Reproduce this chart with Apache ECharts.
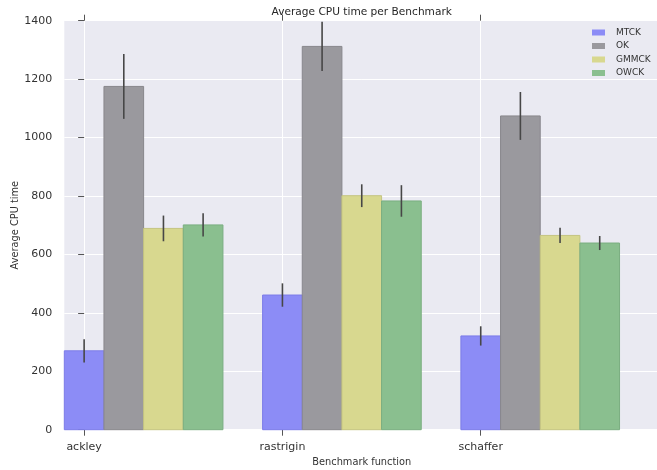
<!DOCTYPE html>
<html>
<head>
<meta charset="utf-8">
<script src="https://cdn.jsdelivr.net/npm/echarts@6/dist/echarts.min.js"></script>
<style>
  html, body { margin: 0; padding: 0; background: #ffffff; }
  #chart { width: 657px; height: 470px; }
</style>
</head>
<body>
<div id="chart"></div>
<script>
// Benchmark functions (one group of bars each)
const categories = ['ackley', 'rastrigin', 'schaffer'];
const methods = ['MTCK', 'OK', 'GMMCK', 'OWCK'];

// Average CPU time per method, one value per benchmark
const mtck  = [270, 461, 321];
const ok    = [1175, 1312, 1074];
const gmmck = [689, 801, 665];
const owck  = [701, 783, 639];

// Error bar half-lengths
const mtckErr  = [40, 40, 33];
const okErr    = [111, 84, 82];
const gmmckErr = [44, 39, 26];
const owckErr  = [40, 54, 24];

// Y axis ticks
const yTicks = [0, 200, 400, 600, 800, 1000, 1200, 1400];

const values = [mtck, ok, gmmck, owck];
const errors = [mtckErr, okErr, gmmckErr, owckErr];
const fills   = ['#8c8cf6', '#9a999e', '#d8d88f', '#8abf8f'];
const strokes = ['#7c7ce8', '#88878c', '#c4c480', '#7aae80'];

const BAR_W = 0.2;
const font = 'DejaVu Sans';
const tickPositions = categories.map((c, i) => i);

const series = [];
methods.forEach((name, k) => {
  const data = categories.map((c, i) => [i + k * BAR_W, values[k][i], errors[k][i]]);
  series.push({
    name: name,
    type: 'custom',
    xAxisIndex: 0,
    yAxisIndex: 0,
    itemStyle: { color: fills[k] },
    data: data,
    z: 2,
    renderItem: function (params, api) {
      const x = api.value(0), v = api.value(1);
      const p0 = api.coord([x - BAR_W / 2, v]);
      const p1 = api.coord([x + BAR_W / 2, 0]);
      return {
        type: 'rect',
        shape: { x: p0[0], y: p0[1], width: p1[0] - p0[0], height: p1[1] - p0[1] },
        style: { fill: fills[k], stroke: strokes[k], lineWidth: 1 }
      };
    }
  });
});

// Error bars drawn above every bar
methods.forEach((name, k) => {
  const data = categories.map((c, i) => [i + k * BAR_W, values[k][i], errors[k][i]]);
  series.push({
    name: name + ' error',
    type: 'custom',
    xAxisIndex: 0,
    yAxisIndex: 0,
    data: data,
    z: 5,
    silent: true,
    renderItem: function (params, api) {
      const x = api.value(0), v = api.value(1), e = api.value(2);
      const lo = api.coord([x, v - e]);
      const hi = api.coord([x, v + e]);
      return {
        type: 'line',
        shape: { x1: lo[0], y1: lo[1], x2: hi[0], y2: hi[1] },
        style: { stroke: '#474747', lineWidth: 1.6 }
      };
    }
  });
});

const chart = echarts.init(document.getElementById('chart'), null, { renderer: 'canvas' });
chart.setOption({
  animation: false,
  backgroundColor: '#ffffff',
  title: {
    text: 'Average CPU time per Benchmark',
    left: 361.7,
    textAlign: 'center',
    top: 6.5,
    padding: 0,
    textStyle: { fontFamily: font, fontSize: 10.6, fontWeight: 'normal', color: '#262626' }
  },
  legend: {
    orient: 'vertical',
    left: 592,
    top: 28,
    padding: 0,
    itemWidth: 13,
    itemHeight: 6,
    itemGap: 4.5,
    icon: 'rect',
    data: methods.map((m, k) => ({ name: m, itemStyle: { color: fills[k] } })),
    textStyle: { fontFamily: font, fontSize: 9, color: '#333333', padding: [0, 0, 0, 6] }
  },
  grid: {
    left: 64.3,
    top: 20.7,
    width: 594.9,
    height: 409,
    containLabel: false,
    outerBoundsMode: 'none',
    show: true,
    backgroundColor: '#eaeaf2',
    borderWidth: 0
  },
  xAxis: [
    {
      type: 'value',
      min: -0.1,
      max: 2.9,
      name: 'Benchmark function',
      nameLocation: 'middle',
      nameGap: 28,
      nameMoveOverlap: false,
      nameTextStyle: { fontFamily: font, fontSize: 9.8, color: '#333333' },
      axisLine: { show: false },
      axisTick: {
        show: true, length: 6, customValues: tickPositions,
        lineStyle: { color: '#555555', width: 1 }
      },
      axisLabel: {
        customValues: tickPositions,
        margin: 12,
        fontFamily: font, fontSize: 11, color: '#333333',
        formatter: v => categories[Math.round(v)]
      },
      splitLine: { show: true, lineStyle: { color: '#ffffff', width: 1 } }
    },
    {
      type: 'value',
      position: 'top',
      min: -0.1,
      max: 2.9,
      axisLine: { show: false },
      axisTick: {
        show: true, length: 6, customValues: tickPositions,
        lineStyle: { color: '#555555', width: 1 }
      },
      axisLabel: { show: false },
      splitLine: { show: false }
    }
  ],
  yAxis: {
    type: 'value',
    min: yTicks[0],
    max: yTicks[yTicks.length - 1],
    interval: 200,
    name: 'Average CPU time',
    nameLocation: 'middle',
    nameGap: 44,
    nameMoveOverlap: false,
    nameTextStyle: { fontFamily: font, fontSize: 9.8, color: '#333333' },
    axisLine: { show: false },
    axisTick: { show: true, length: 6, lineStyle: { color: '#555555', width: 1 } },
    axisLabel: {
      margin: 12, fontFamily: font, fontSize: 11, color: '#333333',
      formatter: v => String(v)
    },
    splitLine: { show: true, lineStyle: { color: '#ffffff', width: 1 } }
  },
  series: series
});
</script>
</body>
</html>
